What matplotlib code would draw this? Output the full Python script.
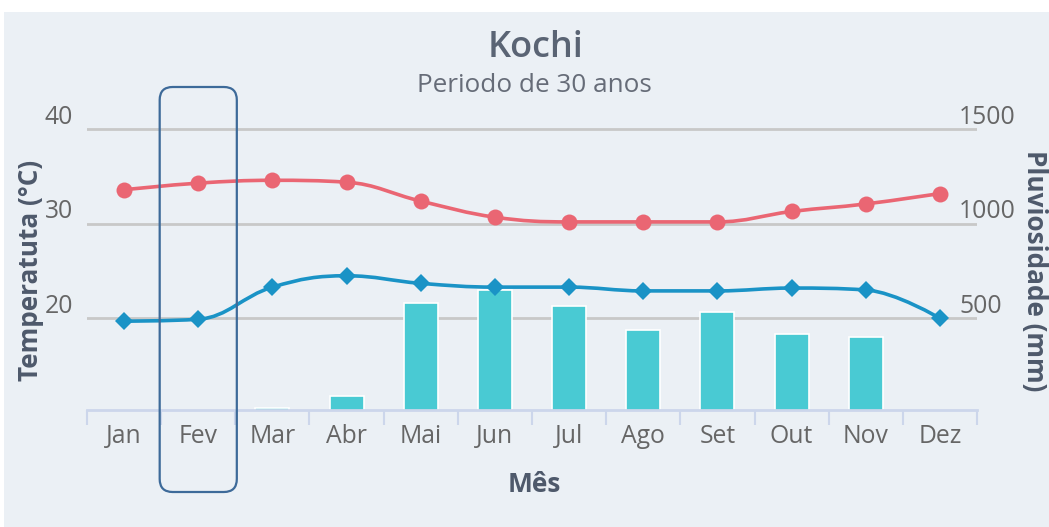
import matplotlib
matplotlib.use("Agg")
import matplotlib.pyplot as plt
from matplotlib.path import Path
from matplotlib.patches import PathPatch, FancyBboxPatch, Rectangle
from matplotlib.transforms import ScaledTranslation, IdentityTransform

months = ["Jan", "Fev", "Mar", "Abr", "Mai", "Jun", "Jul", "Ago", "Set", "Out", "Nov", "Dez"]
temp_max = [33.6, 34.3, 34.6, 34.4, 32.4, 30.7, 30.2, 30.2, 30.2, 31.3, 32.1, 33.2]
temp_min = [19.7, 19.9, 23.3, 24.5, 23.7, 23.3, 23.3, 22.9, 22.9, 23.2, 23.0, 20.0]
rain_mm = [0, 0, 25, 89, 579, 650, 565, 438, 532, 417, 401, 0]
temp_ticks = [20, 30, 40]
rain_ticks = [500, 1000, 1500]

BG = "#ebf0f5"
RED = "#ea6673"
BLUE = "#1a93c6"
CYAN = "#49cad3"
TICK = "#666666"
AXT = "#4e596b"

plt.rcParams["font.family"] = ["Open Sans", "DejaVu Sans"]

W, H = 1049, 527
fig = plt.figure(figsize=(W / 100, H / 100), dpi=100)
fig.patch.set_facecolor("white")
fig.patches.append(Rectangle((4 / W, 0), 1, 1 - 12 / H, transform=fig.transFigure,
                             facecolor=BG, edgecolor="none", zorder=-10))

left, right, top, bottom = 87, 977, 120, 410
ax = fig.add_axes([left / W, 1 - bottom / H, (right - left) / W, (bottom - top) / H])
ax2 = ax.twinx()

x = list(range(len(months)))

# bars + grid on right axis
ax2.bar(x, rain_mm, width=0.46, color=CYAN, edgecolor="white", linewidth=1.2, zorder=2)
ax2.set_ylim(15, 1549)
ax2.set_yticks(rain_ticks)
ax2.grid(axis="y", color="#c8c8c8", linewidth=2, zorder=0)
ax2.set_axisbelow(True)

ax.set_zorder(ax2.get_zorder() + 1)
ax.patch.set_visible(False)
ax2.patch.set_visible(False)
ax.set_ylim(10.3, 40.98)
ax.set_xlim(-0.5, 11.5)
ax.set_yticks(temp_ticks)


def spline_path(xs, ys, smoothing=1.5):
    denom = smoothing + 1
    verts = [(xs[0], ys[0])]
    codes = [Path.MOVETO]
    prev_rc = (xs[0], ys[0])
    n = len(xs)
    for i in range(1, n):
        px, py = xs[i], ys[i]
        lx, ly = xs[i - 1], ys[i - 1]
        if i < n - 1:
            nx, ny = xs[i + 1], ys[i + 1]
            lcx = (smoothing * px + lx) / denom
            lcy = (smoothing * py + ly) / denom
            rcx = (smoothing * px + nx) / denom
            rcy = (smoothing * py + ny) / denom
            corr = 0
            if rcx != lcx:
                corr = (rcy - lcy) * (rcx - px) / (rcx - lcx) + py - rcy
            lcy += corr
            rcy += corr
            if lcy > ly and lcy > py:
                lcy = max(ly, py); rcy = 2 * py - lcy
            elif lcy < ly and lcy < py:
                lcy = min(ly, py); rcy = 2 * py - lcy
            if rcy > ny and rcy > py:
                rcy = max(ny, py); lcy = 2 * py - rcy
            elif rcy < ny and rcy < py:
                rcy = min(ny, py); lcy = 2 * py - rcy
            lc = (lcx, lcy)
            rc = (rcx, rcy)
        else:
            lc = (px, py)
            rc = (px, py)
        verts += [prev_rc, lc, (px, py)]
        codes += [Path.CURVE4] * 3
        prev_rc = rc
    return Path(verts, codes)


for ys, col, mk, ms in [(temp_max, RED, "o", 11.5), (temp_min, BLUE, "D", 9)]:
    ax.add_patch(PathPatch(spline_path(x, ys), facecolor="none", edgecolor=col,
                           linewidth=2.6, zorder=3, capstyle="round", joinstyle="round"))
    ax.plot(x, ys, linestyle="none", marker=mk, markersize=ms, color=col,
            markeredgewidth=0, zorder=4)

for a in (ax, ax2):
    for s in ("top", "left", "right"):
        a.spines[s].set_visible(False)
ax2.spines["bottom"].set_visible(False)
ax.spines["bottom"].set_color("#ccd6eb")
ax.spines["bottom"].set_linewidth(2)

FS = 17.8
# x axis ticks at band boundaries
ax.set_xticks(x)
ax.set_xticklabels(months, fontsize=FS, color=TICK)
ax.tick_params(axis="x", length=0, pad=10)
ax.set_xticks([i - 0.5 for i in range(13)], minor=True)
ax.tick_params(axis="x", which="minor", length=11, width=1.5, color="#ccd6eb")

ax.tick_params(axis="y", length=0, pad=10, labelsize=FS, labelcolor=TICK)
ax2.tick_params(axis="y", length=0, pad=-13, labelsize=FS, labelcolor=TICK)
up = ScaledTranslation(0, 15 / 100, fig.dpi_scale_trans)
for lab in ax.get_yticklabels():
    lab.set_transform(lab.get_transform() + up)
for lab in ax2.get_yticklabels():
    lab.set_transform(lab.get_transform() + up)
    lab.set_horizontalalignment("left")

fig.text(536 / W, 1 - 48 / H, "Kochi", ha="center", va="center", fontsize=26,
         fontweight="semibold", color="#5a6474")
fig.text(534 / W, 1 - 85 / H, "Periodo de 30 anos", ha="center", va="center",
         fontsize=18.8, color="#666c78")
fig.text(31 / W, 1 - 270 / H, "Temperatuta (°C)", rotation=90, ha="center", va="center",
         fontsize=18.8, fontweight="bold", color=AXT)
fig.text(1034 / W, 1 - 271 / H, "Pluviosidade (mm)", rotation=-90, ha="center", va="center",
         fontsize=18.8, fontweight="bold", color=AXT)
fig.text(534 / W, 1 - 484 / H, "Mês", ha="center", va="center",
         fontsize=19, fontweight="bold", color=AXT)

# highlight box around Fev
fig.canvas.draw()
x0 = ax.transData.transform((1 - 0.52, 0))[0]
x1 = ax.transData.transform((1 + 0.52, 0))[0]
y0, y1 = H - 492, H - 87
box = FancyBboxPatch((x0, y0), x1 - x0, y1 - y0,
                     boxstyle="round,pad=0,rounding_size=13",
                     transform=IdentityTransform(), facecolor="none",
                     edgecolor="#3d6a99", linewidth=1.6, zorder=20)
fig.patches.append(box)

fig.savefig("out.png", dpi=100, facecolor=fig.get_facecolor())
